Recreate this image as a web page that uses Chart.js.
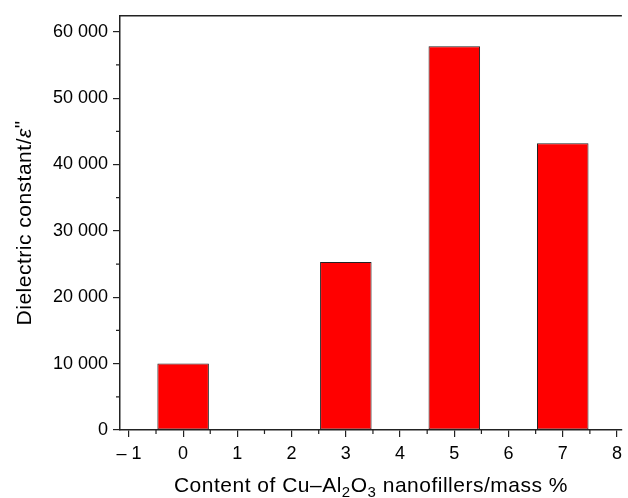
<!DOCTYPE html>
<html>
<head>
<meta charset="utf-8">
<script src="https://cdn.jsdelivr.net/npm/chart.js@4.4.0/dist/chart.umd.min.js"></script>
<style>
  html, body { margin: 0; padding: 0; background: #fff; overflow: hidden; }
  #wrap { width: 628px; height: 498px; }
</style>
</head>
<body>
<div id="wrap"><canvas id="barChart" width="628" height="498"></canvas></div>
<script>
// filler content (mass %) and measured dielectric constant
var contents = [0, 3, 5, 7];
var epsilonValues = [10000, 25300, 57800, 43200];
var xTicks = [-1, 0, 1, 2, 3, 4, 5, 6, 7, 8];
var yTicks = [0, 10000, 20000, 30000, 40000, 50000, 60000];

var FONT = "'Liberation Sans', Arial, Helvetica, sans-serif";
var AXIS = '#222';

function groupThousands(v)
{
    return String(v).replace(/\B(?=(\d{3})+(?!\d))/g, ' ');
}

// minor ticks, top frame line and the two axis titles
var decorations = {
    id: 'decorations',
    afterDraw: function(chart)
    {
        var ctx = chart.ctx;
        var xs = chart.scales.x, ys = chart.scales.y;
        var area = chart.chartArea;
        ctx.save();
        ctx.strokeStyle = AXIS;
        ctx.lineWidth = 1.5;

        // top frame
        ctx.beginPath();
        ctx.moveTo(area.left, area.top);
        ctx.lineTo(area.right, area.top);
        ctx.stroke();

        // minor ticks halfway between major ones
        ctx.lineWidth = 1.2;
        ctx.beginPath();
        for (var i = 0; i < xTicks.length; i++) {
            var v = xTicks[i] + 0.5;
            if (v > xs.max) continue;
            var px = xs.getPixelForValue(v);
            ctx.moveTo(px, area.bottom);
            ctx.lineTo(px, area.bottom + 4);
        }
        for (var j = 0; j < yTicks.length; j++) {
            var w = yTicks[j] + 5000;
            if (w > ys.max) continue;
            var py = ys.getPixelForValue(w);
            ctx.moveTo(area.left, py);
            ctx.lineTo(area.left - 4, py);
        }
        ctx.stroke();

        ctx.fillStyle = '#000';
        ctx.textBaseline = 'alphabetic';
        ctx.letterSpacing = '0.5px';

        // x title with subscripts
        var parts = [
            { t: 'Content of Cu\u2013Al', sub: false },
            { t: '2', sub: true },
            { t: 'O', sub: false },
            { t: '3', sub: true },
            { t: ' nanofillers/mass %', sub: false }
        ];
        var big = '21px ' + FONT, small = '15px ' + FONT;
        var total = 0;
        parts.forEach(function(p) {
            ctx.font = p.sub ? small : big;
            p.w = ctx.measureText(p.t).width;
            total += p.w;
        });
        var cx = (area.left + area.right) / 2;
        var x = cx - total / 2, base = 492;
        parts.forEach(function(p) {
            ctx.font = p.sub ? small : big;
            ctx.fillText(p.t, x, p.sub ? base + 5 : base);
            x += p.w;
        });

        // y title, rotated
        var yparts = [
            { t: 'Dielectric constant/', f: big, dy: 0 },
            { t: '\u03b5', f: 'italic 21px ' + FONT, dy: 0 },
            { t: '"', f: big, dy: -2 }
        ];
        var ytotal = 0;
        yparts.forEach(function(p) {
            ctx.font = p.f;
            p.w = ctx.measureText(p.t).width;
            ytotal += p.w;
        });
        ctx.translate(31, (area.top + area.bottom) / 2);
        ctx.rotate(-Math.PI / 2);
        var yx = -ytotal / 2;
        yparts.forEach(function(p) {
            ctx.font = p.f;
            ctx.fillText(p.t, yx, p.dy);
            yx += p.w;
        });
        ctx.restore();
    }
};

new Chart("barChart", {
    type: "bar",
    data: {
        datasets: [{
            data: contents.map(function(c, i) { return { x: c, y: epsilonValues[i] }; }),
            backgroundColor: '#ff0000',
            borderColor: AXIS,
            borderWidth: 1,
            borderSkipped: false,
            categoryPercentage: 1,
            barPercentage: 0.95
        }]
    },
    options: {
        responsive: false,
        animation: false,
        events: [],
        layout: { padding: { top: 15, right: 0, left: 0, bottom: 0 } },
        plugins: {
            legend: { display: false },
            tooltip: { enabled: false }
        },
        scales: {
            x: {
                type: 'linear',
                offset: false,
                min: -1.164,
                max: 8.09,
                afterFit: function(scale) { scale.height = 68; },
                afterBuildTicks: function(scale) {
                    scale.ticks = xTicks.map(function(v) { return { value: v }; });
                },
                grid: { offset: false, drawOnChartArea: false, drawTicks: true, tickLength: 7, color: AXIS, lineWidth: 1.2 },
                border: { display: true, color: AXIS, width: 1.5 },
                ticks: {
                    stepSize: 1,
                    includeBounds: false,
                    autoSkip: false,
                    maxRotation: 0,
                    padding: 6,
                    color: '#000',
                    font: { family: FONT, size: 18 },
                    callback: function(v) { return v < 0 ? '\u2013 ' + Math.abs(v) : String(v); }
                }
            },
            y: {
                min: 0,
                max: 62400,
                afterFit: function(scale) { scale.width = 120; },
                afterBuildTicks: function(scale) {
                    scale.ticks = yTicks.map(function(v) { return { value: v }; });
                },
                grid: { drawOnChartArea: false, drawTicks: true, tickLength: 7, color: AXIS, lineWidth: 1.2 },
                border: { display: true, color: AXIS, width: 1.5 },
                ticks: {
                    stepSize: 10000,
                    includeBounds: false,
                    autoSkip: false,
                    padding: 5,
                    color: '#000',
                    font: { family: FONT, size: 18 },
                    callback: function(v) { return groupThousands(v); }
                }
            }
        }
    },
    plugins: [decorations]
});
</script>
</body>
</html>
